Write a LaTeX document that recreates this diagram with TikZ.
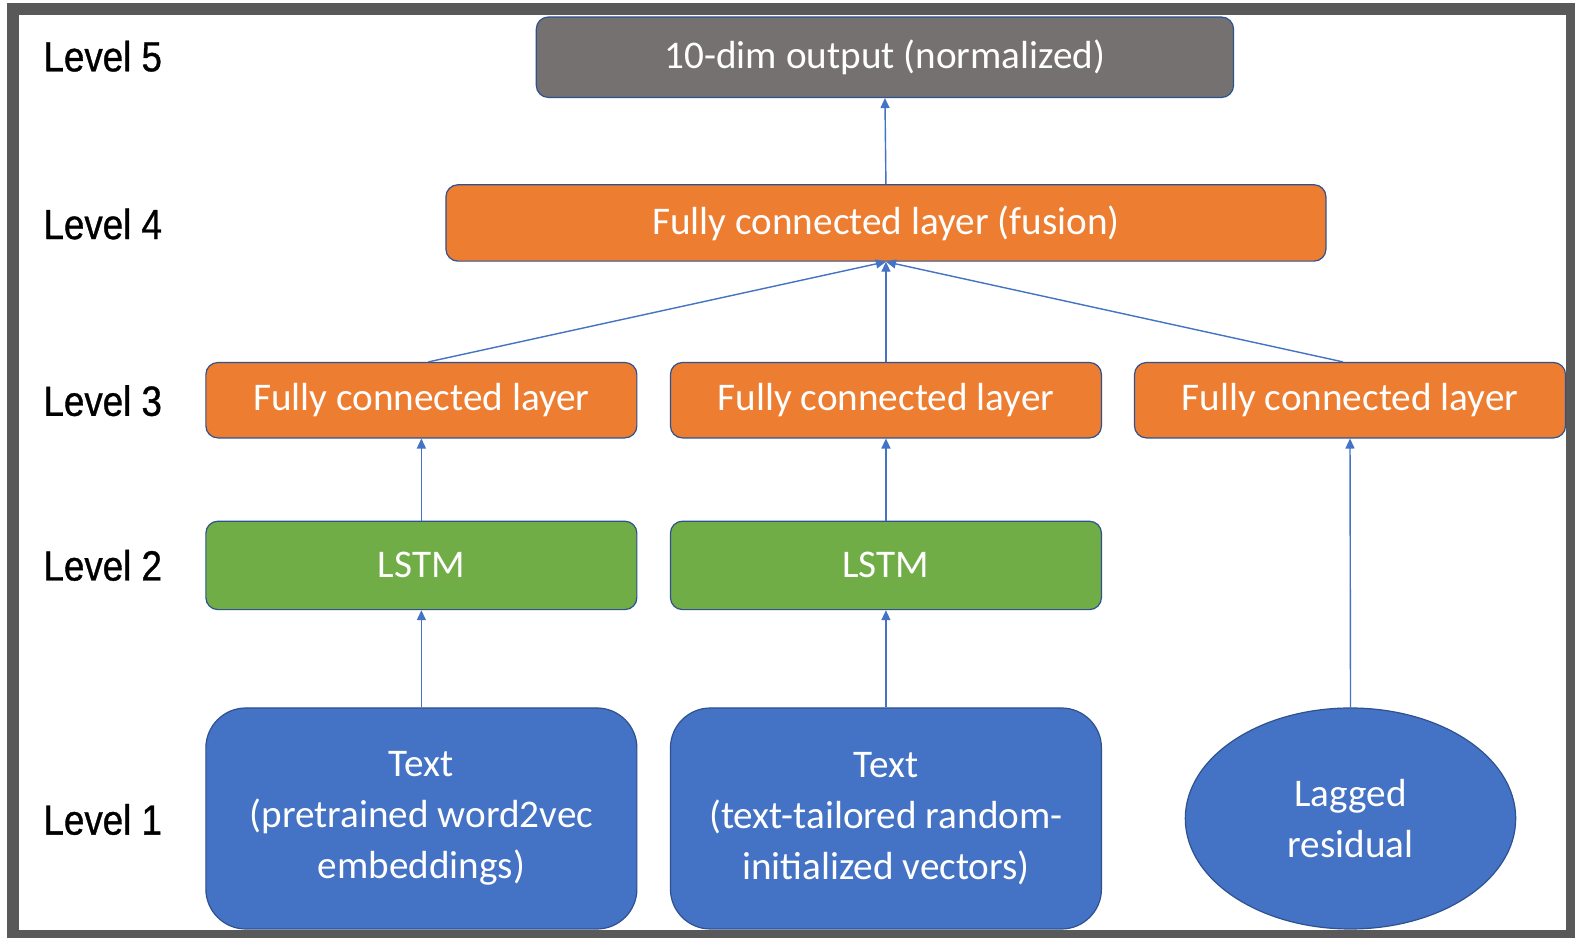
\documentclass[tikz,border=0pt]{standalone}
\usepackage{fontspec}
\setmainfont{Carlito}
\newfontfamily\lvlfont[FakeStretch=0.87,FakeBold=0.8]{Liberation Sans}
\usetikzlibrary{shapes.geometric,arrows.meta}
\definecolor{framegray}{HTML}{595959}
\definecolor{outgray}{HTML}{767171}
\definecolor{fcorange}{HTML}{ED7D31}
\definecolor{lstmgreen}{HTML}{70AD47}
\definecolor{inblue}{HTML}{4472C4}
\definecolor{edgeblue}{HTML}{2F528F}
\tikzset{
  box/.style={draw=edgeblue, line width=0.6pt, rounded corners=6pt, text=white,
    font=\fontsize{19.6}{25.6}\selectfont, align=center, inner sep=0pt},
  outbox/.style={box, fill=outgray, minimum width=348.6pt, minimum height=40.2pt},
  fusbox/.style={box, fill=fcorange, minimum width=440pt, minimum height=38.2pt},
  fcbox/.style={box, fill=fcorange, minimum width=215.5pt, minimum height=37.7pt},
  lstmbox/.style={box, fill=lstmgreen, minimum width=215.5pt, minimum height=44.2pt},
  inbox/.style={box, fill=inblue, rounded corners=20pt, minimum width=215.5pt, minimum height=110.5pt},
  inoval/.style={ellipse, draw=edgeblue, line width=0.6pt, fill=inblue, text=white,
    font=\fontsize{19.6}{25.6}\selectfont, align=center, inner sep=0pt,
    minimum width=165.2pt, minimum height=110.5pt},
  lvl/.style={anchor=west, inner sep=0pt, font=\lvlfont\fontsize{21.1}{25}\selectfont},
  arr/.style={draw=inblue, line width=0.7pt, -{Triangle[length=5pt,width=4.5pt]}},
}
\begin{document}
\begin{tikzpicture}[x=0.50223pt,y=-0.50214pt]
  \useasboundingbox (0,0) rectangle (1568,934);
  % outer frame
  \fill[white] (0,0) rectangle (1568,934);
  \fill[framegray] (7,3) rectangle (1568,934);
  \fill[white] (19,15) rectangle (1559,926);

  % level labels
  \node[lvl] (l5) at (43,56) {Level 5};
  \node[lvl] (l4) at (43,223) {Level 4};
  \node[lvl] (l3) at (43,399) {Level 3};
  \node[lvl] (l2) at (43,563) {Level 2};
  \node[lvl] (l1) at (43,816) {Level 1};

  % level 5
  \node[outbox] (out) at (881,57) {10-dim output (normalized)};
  % level 4
  \node[fusbox] (fus) at (882,222) {Fully connected layer (fusion)};
  % level 3
  \node[fcbox] (fc1) at (419.5,398.5) {Fully connected layer};
  \node[fcbox] (fc2) at (882,398.5) {Fully connected layer};
  \node[fcbox] (fc3) at (1344,398.5) {Fully connected layer};
  % level 2
  \node[lstmbox] (ls1) at (419.5,563) {LSTM};
  \node[lstmbox] (ls2) at (882,563) {LSTM};
  % level 1
  \node[inbox] (tx1) at (419.5,815) {Text\\(pretrained word2vec\\embeddings)};
  \node[inbox] (tx2) at (882,815) {Text\\(text-tailored random-\\initialized vectors)};
  \node[inoval] (lag) at (1344.5,815) {Lagged\\residual};

  % connectors
  \draw[arr] (tx1.north) -- (ls1.south);
  \draw[arr] (tx2.north) -- (ls2.south);
  \draw[arr] (lag.north) -- (fc3.south);
  \draw[arr] (ls1.north) -- (fc1.south);
  \draw[arr] (ls2.north) -- (fc2.south);
  \draw[arr] ([xshift=3.5pt]fc1.north) -- (fus.south);
  \draw[arr] (fc2.north) -- (fus.south);
  \draw[arr] ([xshift=-3.5pt]fc3.north) -- (fus.south);
  \draw[arr] (fus.north) -- (out.south);
\end{tikzpicture}
\end{document}
